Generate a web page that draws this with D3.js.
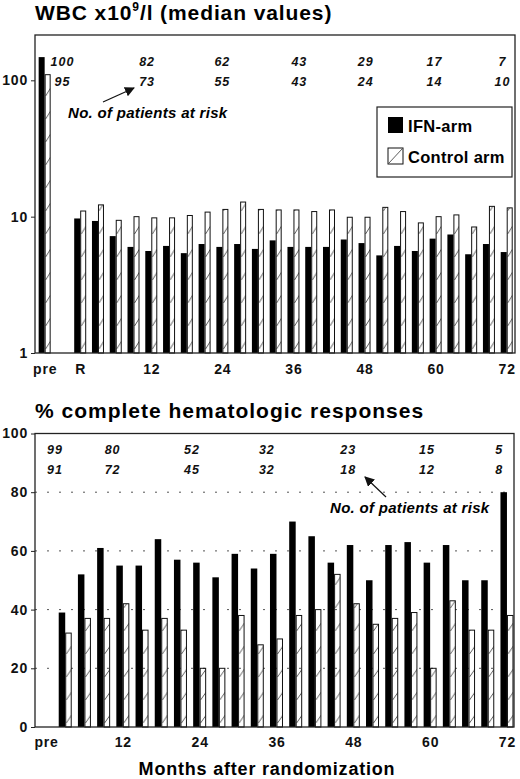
<!DOCTYPE html>
<html>
<head>
<meta charset="utf-8">
<script src="https://cdn.jsdelivr.net/npm/d3@7"></script>
<style>
  body { margin: 0; background: #fff; }
  svg { display: block; font-family: "Liberation Sans", Arial, sans-serif; }
  .tick text { font-weight: bold; font-size: 14px; letter-spacing: 0.8px; fill: #111; }
  .tick line { stroke: #222; }
</style>
</head>
<body>
<div id="container"></div>
<script>
// WBC chart (log scale), "pre" is put at month -6
const wbcMonths = [-6, 0, 3, 6, 9, 12, 15, 18, 21, 24, 27, 30, 33, 36, 39, 42, 45, 48, 51, 54, 57, 60, 63, 66, 69, 72];
const wbcIFN = [148, 9.7, 9.3, 7.2, 6.0, 5.6, 6.1, 5.4, 6.3, 6.0, 6.3, 5.8, 6.7, 6.0, 6.0, 6.0, 6.8, 6.4, 5.2, 6.1, 5.6, 6.9, 7.4, 5.3, 6.3, 5.5];
const wbcControl = [110, 11.0, 12.2, 9.4, 10.0, 9.8, 9.8, 10.2, 10.8, 11.3, 12.8, 11.3, 11.2, 11.2, 10.9, 11.2, 9.9, 9.9, 11.7, 10.9, 9.0, 10.0, 10.3, 8.4, 11.9, 11.6];
const wbcTickMonths = [-6, 0, 12, 24, 36, 48, 60, 72];
const wbcTickLabels = ["pre", "R", "12", "24", "36", "48", "60", "72"];
const wbcYTicks = [1, 10, 100];
const wbcRiskAt = [-3, 11.3, 24, 37, 48.2, 59.8, 71.3];
const wbcRiskIFN = [100, 82, 62, 43, 29, 17, 7];
const wbcRiskControl = [95, 73, 55, 43, 24, 14, 10];

// complete hematologic responses (%)
const chrMonths = [3, 6, 9, 12, 15, 18, 21, 24, 27, 30, 33, 36, 39, 42, 45, 48, 51, 54, 57, 60, 63, 66, 69, 72];
const chrIFN = [39, 52, 61, 55, 55, 64, 57, 56, 51, 59, 54, 59, 70, 65, 56, 62, 50, 62, 63, 56, 62, 50, 50, 80];
const chrControl = [32, 37, 37, 42, 33, 37, 33, 20, 20, 38, 28, 30, 38, 40, 52, 42, 35, 37, 39, 20, 43, 33, 33, 38];
const chrTickMonths = [0, 12, 24, 36, 48, 60, 72];
const chrTickLabels = ["pre", "12", "24", "36", "48", "60", "72"];
const chrYTicks = [0, 20, 40, 60, 80, 100];
const chrGrid = [20, 40, 60, 80];
const chrRiskAt = [1.4, 10.4, 22.8, 34.5, 47.2, 59.5, 70.8];
const chrRiskIFN = [99, 80, 52, 32, 23, 15, 5];
const chrRiskControl = [91, 72, 45, 32, 18, 12, 8];

const width = 520, height = 779;

const svg = d3.select("#container")
  .append("svg")
  .attr("width", width)
  .attr("height", height);

svg.append("rect").attr("width", width).attr("height", height).attr("fill", "white");

const defs = svg.append("defs");
defs.append("marker")
  .attr("id", "arrow")
  .attr("viewBox", "0 0 10 10")
  .attr("refX", 9).attr("refY", 5)
  .attr("markerWidth", 10).attr("markerHeight", 10)
  .attr("markerUnits", "userSpaceOnUse")
  .attr("orient", "auto")
  .append("path")
  .attr("d", "M0,0 L10,5 L0,10 Z")
  .attr("fill", "#111");

// hatch pattern, one tile per bar step so the "/" sits inside every white bar
function hatch(id, x0, step, bw, yBase) {
  const p = defs.append("pattern")
    .attr("id", id)
    .attr("patternUnits", "userSpaceOnUse")
    .attr("x", x0).attr("y", yBase)
    .attr("width", step).attr("height", 23);
  p.append("line")
    .attr("x1", 0.5).attr("y1", 19)
    .attr("x2", bw - 0.5).attr("y2", 11)
    .attr("stroke", "#333").attr("stroke-width", 0.8);
}

function drawBars(g, months, ifn, ctrl, x, y, bw, patId) {
  const y0 = y.range()[0];
  g.selectAll("rect.ifn")
    .data(months)
    .join("rect")
    .attr("class", "ifn")
    .attr("x", (d) => x(d) - bw)
    .attr("width", bw)
    .attr("y", (d, i) => y(ifn[i]))
    .attr("height", (d, i) => y0 - y(ifn[i]))
    .attr("fill", "#000");
  g.selectAll("rect.ctrl")
    .data(months)
    .join("rect")
    .attr("class", "ctrl")
    .attr("x", (d) => x(d) + 0.5)
    .attr("width", bw - 1)
    .attr("y", (d, i) => y(ctrl[i]))
    .attr("height", (d, i) => y0 - y(ctrl[i]))
    .attr("fill", `url(#${patId})`)
    .attr("stroke", "#111")
    .attr("stroke-width", 1);
}

function riskRows(g, at, r1, r2, x, y1, y2) {
  const t = g.append("g")
    .attr("font-style", "italic")
    .attr("font-weight", "bold")
    .attr("font-size", 12.5)
    .attr("letter-spacing", 1)
    .attr("text-anchor", "middle")
    .attr("fill", "#111");
  t.selectAll("text.r1").data(at).join("text").attr("class", "r1")
    .attr("x", (d) => x(d)).attr("y", y1).text((d, i) => r1[i]);
  t.selectAll("text.r2").data(at).join("text").attr("class", "r2")
    .attr("x", (d) => x(d)).attr("y", y2).text((d, i) => r2[i]);
}

function frame(x, y) {
  const [x0, x1] = x.range();
  const [yb, yt] = y.range();
  svg.append("rect")
    .attr("x", x0).attr("y", yt)
    .attr("width", x1 - x0).attr("height", yb - yt)
    .attr("fill", "none").attr("stroke", "#222").attr("stroke-width", 1.3);
}

// ---------- top: WBC ----------
const xTop = d3.scaleLinear().domain([-7.63, 73.4]).range([35, 515]);
const yTop = d3.scaleLog().domain([1, 215]).range([353, 35]);
const bwTop = 6;

svg.append("text")
  .attr("x", 35).attr("y", 20)
  .attr("font-size", 21).attr("font-weight", "bold").attr("letter-spacing", 0.9)
  .text("WBC x10")
  .append("tspan").attr("font-size", 12).attr("dy", -9).text("9")
  .select(function () { return this.parentNode; })
  .append("tspan").attr("dy", 9).text("/l (median values)");

hatch("hatchTop", xTop(0) + 0.5, xTop(3) - xTop(0), bwTop, 353);
drawBars(svg.append("g"), wbcMonths, wbcIFN, wbcControl, xTop, yTop, bwTop, "hatchTop");

svg.append("g")
  .attr("transform", "translate(35,0)")
  .call(d3.axisLeft(yTop).tickValues(wbcYTicks).tickFormat(d3.format("d")).tickSize(4).tickPadding(3))
  .call((g) => g.select(".domain").remove());

svg.append("g")
  .attr("transform", "translate(0,353)")
  .call(d3.axisBottom(xTop).tickValues(wbcTickMonths)
    .tickFormat((d, i) => wbcTickLabels[i]).tickSize(0).tickPadding(11))
  .call((g) => g.select(".domain").remove());

frame(xTop, yTop);
riskRows(svg.append("g"), wbcRiskAt, wbcRiskIFN, wbcRiskControl, xTop, 66, 86);

svg.append("line")
  .attr("x1", 103).attr("y1", 102).attr("x2", 134).attr("y2", 88)
  .attr("stroke", "#111").attr("stroke-width", 1.2)
  .attr("marker-end", "url(#arrow)");
svg.append("text")
  .attr("x", 68).attr("y", 118)
  .attr("font-size", 15).attr("font-weight", "bold").attr("font-style", "italic")
  .attr("letter-spacing", 0.3)
  .text("No. of patients at risk");

// legend
const leg = svg.append("g");
leg.append("rect")
  .attr("x", 377).attr("y", 107).attr("width", 135).attr("height", 70)
  .attr("fill", "white").attr("stroke", "#222").attr("stroke-width", 1.2);
leg.append("rect").attr("x", 388).attr("y", 117).attr("width", 15).attr("height", 16).attr("fill", "#000");
leg.append("rect").attr("x", 388).attr("y", 148).attr("width", 15).attr("height", 16)
  .attr("fill", "white").attr("stroke", "#111");
leg.append("line").attr("x1", 389).attr("y1", 163).attr("x2", 402).attr("y2", 149)
  .attr("stroke", "#333").attr("stroke-width", 0.8);
leg.append("text").attr("x", 408).attr("y", 132)
  .attr("font-size", 16.5).attr("font-weight", "bold").attr("letter-spacing", 0.3).text("IFN-arm");
leg.append("text").attr("x", 408).attr("y", 163)
  .attr("font-size", 16.5).attr("font-weight", "bold").attr("letter-spacing", 0.3).text("Control arm");

// ---------- bottom: % complete hematologic responses ----------
const xBot = d3.scaleLinear().domain([-1.72, 73.1]).range([35, 514]);
const yBot = d3.scaleLinear().domain([0, 100]).range([727, 433.5]);
const bwBot = 6.5;

svg.append("text")
  .attr("x", 35).attr("y", 418)
  .attr("font-size", 21).attr("font-weight", "bold").attr("letter-spacing", 1)
  .text("% complete hematologic responses");

svg.append("g")
  .selectAll("line")
  .data(chrGrid)
  .join("line")
  .attr("x1", 35).attr("x2", 514)
  .attr("y1", (d) => yBot(d)).attr("y2", (d) => yBot(d))
  .attr("stroke", "#555").attr("stroke-width", 1)
  .attr("stroke-dasharray", "2,10");

hatch("hatchBot", xBot(0) + 0.5, xBot(3) - xBot(0), bwBot, 727);
drawBars(svg.append("g"), chrMonths, chrIFN, chrControl, xBot, yBot, bwBot, "hatchBot");

svg.append("g")
  .attr("transform", "translate(35,0)")
  .call(d3.axisLeft(yBot).tickValues(chrYTicks).tickSize(4).tickPadding(3))
  .call((g) => g.select(".domain").remove());

svg.append("g")
  .attr("transform", "translate(0,727)")
  .call(d3.axisBottom(xBot).tickValues(chrTickMonths)
    .tickFormat((d, i) => chrTickLabels[i]).tickSize(0).tickPadding(10))
  .call((g) => g.select(".domain").remove());

frame(xBot, yBot);
riskRows(svg.append("g"), chrRiskAt, chrRiskIFN, chrRiskControl, xBot, 454, 474);

svg.append("line")
  .attr("x1", 386).attr("y1", 497).attr("x2", 365).attr("y2", 477)
  .attr("stroke", "#111").attr("stroke-width", 1.2)
  .attr("marker-end", "url(#arrow)");
svg.append("text")
  .attr("x", 330).attr("y", 513)
  .attr("font-size", 15).attr("font-weight", "bold").attr("font-style", "italic")
  .attr("letter-spacing", 0.3)
  .text("No. of patients at risk");

svg.append("text")
  .attr("x", 267).attr("y", 775)
  .attr("text-anchor", "middle")
  .attr("font-size", 18).attr("font-weight", "bold").attr("letter-spacing", 0.8)
  .text("Months after randomization");
</script>
</body>
</html>
